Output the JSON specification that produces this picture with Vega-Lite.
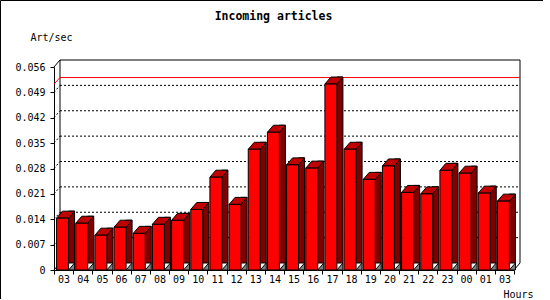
{
  "$schema": "https://vega.github.io/schema/vega-lite/v6.json",
  "width": 543,
  "height": 299,
  "padding": 0,
  "autosize": {"type": "none"},
  "background": "white",
  "config": {
    "view": {"stroke": "black", "strokeWidth": 1},
    "font": "DejaVu Sans Mono"
  },
  "title": {
    "text": "Incoming articles",
    "frame": "group",
    "anchor": "middle",
    "offset": -31,
    "baseline": "alphabetic",
    "dx": 2,
    "font": "DejaVu Sans Mono",
    "fontSize": 11.5,
    "fontWeight": "bold",
    "color": "black"
  },
  "datasets": {
    "bars": [
      {"slot": "03", "v": 0.0143},
      {"slot": "04", "v": 0.0129},
      {"slot": "05", "v": 0.0096},
      {"slot": "06", "v": 0.0118},
      {"slot": "07", "v": 0.0101},
      {"slot": "08", "v": 0.0126},
      {"slot": "09", "v": 0.0137},
      {"slot": "10", "v": 0.0167},
      {"slot": "11", "v": 0.0256},
      {"slot": "12", "v": 0.0181},
      {"slot": "13", "v": 0.0333},
      {"slot": "14", "v": 0.0380},
      {"slot": "15", "v": 0.0290},
      {"slot": "16", "v": 0.0281},
      {"slot": "17", "v": 0.0513},
      {"slot": "18", "v": 0.0333},
      {"slot": "19", "v": 0.0250},
      {"slot": "20", "v": 0.0287},
      {"slot": "21", "v": 0.0214},
      {"slot": "22", "v": 0.0210},
      {"slot": "23", "v": 0.0275},
      {"slot": "00", "v": 0.0267},
      {"slot": "01", "v": 0.0212},
      {"slot": "03*", "v": 0.0190}
    ],
    "grid": [
      {"g": 0.007}, {"g": 0.014}, {"g": 0.021}, {"g": 0.028},
      {"g": 0.035}, {"g": 0.042}, {"g": 0.049}
    ],
    "one": [{"k": 1}]
  },
  "layer": [
    {
      "data": {"name": "grid"},
      "mark": {"type": "rule", "stroke": "black", "strokeWidth": 1, "strokeDash": [2, 2], "xOffset": 6, "x2Offset": 6, "yOffset": -7},
      "encoding": {
        "x": {
          "datum": "03", "type": "ordinal", "bandPosition": 0,
          "scale": {
            "type": "band",
            "domain": ["03","04","05","06","07","08","09","10","11","12","13","14","15","16","17","18","19","20","21","22","23","00","01","03*"],
            "range": [54, 514],
            "paddingInner": 0,
            "paddingOuter": 0
          },
          "axis": {
            "orient": "bottom",
            "offset": -29,
            "tickBand": "extent",
            "labelAngle": 0,
            "labelOverlap": false,
            "labelExpr": "replace(datum.label, '*', '')",
            "labelFont": "DejaVu Sans Mono",
            "labelFontSize": 10,
            "labelColor": "black",
            "labelPadding": 0,
            "tickSize": 4,
            "tickColor": "black",
            "domainColor": "black",
            "grid": false,
            "title": "Hours",
            "titleX": 533,
            "titleY": 27,
            "titleAlign": "right",
            "titleBaseline": "alphabetic",
            "titleFont": "DejaVu Sans Mono",
            "titleFontSize": 10,
            "titleFontWeight": "normal",
            "titleColor": "black"
          }
        },
        "x2": {"datum": "03*", "bandPosition": 1},
        "y": {
          "field": "g", "type": "quantitative",
          "scale": {"domain": [0, 0.056], "range": [270, 67], "nice": false, "zero": true},
          "axis": {
            "orient": "left",
            "offset": -54,
            "values": [0, 0.007, 0.014, 0.021, 0.028, 0.035, 0.042, 0.049, 0.056],
            "tickCount": 30,
            "labelOverlap": false,
            "labelExpr": "datum.value == 0 ? '0' : format(datum.value, '.3f')",
            "labelFont": "DejaVu Sans Mono",
            "labelFontSize": 10,
            "labelColor": "black",
            "labelPadding": 5,
            "tickSize": 4,
            "tickColor": "black",
            "domainColor": "black",
            "grid": false,
            "title": "Art/sec",
            "titleAngle": 0,
            "titleX": -24,
            "titleY": 40,
            "titleAlign": "left",
            "titleBaseline": "alphabetic",
            "titleFont": "DejaVu Sans Mono",
            "titleFontSize": 10,
            "titleFontWeight": "normal",
            "titleColor": "black"
          }
        }
      }
    },
    {
      "data": {"name": "grid"},
      "mark": {"type": "rule", "stroke": "black", "strokeWidth": 1, "strokeDash": [2, 2], "x2Offset": 6, "y2Offset": -7},
      "encoding": {
        "x": {"datum": "03", "type": "ordinal", "bandPosition": 0},
        "x2": {"datum": "03", "bandPosition": 0},
        "y": {"field": "g", "type": "quantitative"},
        "y2": {"field": "g"}
      }
    },
    {
      "data": {"name": "one"},
      "mark": {"type": "rule", "stroke": "black", "strokeWidth": 1, "xOffset": 6, "x2Offset": 6, "yOffset": -7},
      "encoding": {
        "x": {"datum": "03", "type": "ordinal", "bandPosition": 0},
        "x2": {"datum": "03*", "bandPosition": 1},
        "y": {"datum": 0.056, "type": "quantitative"}
      }
    },
    {
      "data": {"name": "one"},
      "mark": {"type": "rule", "stroke": "black", "strokeWidth": 1, "xOffset": 6, "yOffset": -7, "y2Offset": -7},
      "encoding": {
        "x": {"datum": "03", "type": "ordinal", "bandPosition": 0},
        "y": {"datum": 0.056, "type": "quantitative"},
        "y2": {"datum": 0}
      }
    },
    {
      "data": {"name": "one"},
      "mark": {"type": "rule", "stroke": "black", "strokeWidth": 1, "xOffset": 6, "yOffset": -7, "y2Offset": -7},
      "encoding": {
        "x": {"datum": "03*", "type": "ordinal", "bandPosition": 1},
        "y": {"datum": 0.056, "type": "quantitative"},
        "y2": {"datum": 0}
      }
    },
    {
      "data": {"name": "one"},
      "mark": {"type": "rule", "stroke": "black", "strokeWidth": 1, "x2Offset": 6, "y2Offset": -7},
      "encoding": {
        "x": {"datum": "03", "type": "ordinal", "bandPosition": 0},
        "x2": {"datum": "03", "bandPosition": 0},
        "y": {"datum": 0.056, "type": "quantitative"},
        "y2": {"datum": 0.056}
      }
    },
    {
      "data": {"name": "one"},
      "mark": {"type": "rule", "stroke": "black", "strokeWidth": 1, "x2Offset": 6, "y2Offset": -7},
      "encoding": {
        "x": {"datum": "03*", "type": "ordinal", "bandPosition": 1},
        "x2": {"datum": "03*", "bandPosition": 1},
        "y": {"datum": 0, "type": "quantitative"},
        "y2": {"datum": 0}
      }
    },
    {
      "data": {"name": "one"},
      "mark": {"type": "rule", "stroke": "black", "strokeWidth": 1, "x2Offset": 6, "y2Offset": -7},
      "encoding": {
        "x": {"datum": "03", "type": "ordinal", "bandPosition": 0},
        "x2": {"datum": "03", "bandPosition": 0},
        "y": {"datum": 0, "type": "quantitative"},
        "y2": {"datum": 0}
      }
    },
    {
      "data": {"name": "bars"},
      "mark": {"type": "rule", "stroke": "#ff0000", "strokeWidth": 1, "xOffset": 6, "x2Offset": 6, "yOffset": -6.5},
      "encoding": {
        "x": {"datum": "03", "type": "ordinal", "bandPosition": 0},
        "x2": {"datum": "03*", "bandPosition": 1},
        "y": {"aggregate": "max", "field": "v", "type": "quantitative"}
      }
    },
    {
      "data": {"name": "bars"},
      "mark": {"type": "rule", "stroke": "#ff0000", "strokeWidth": 1, "x2Offset": 6, "y2Offset": -6.5},
      "encoding": {
        "x": {"datum": "03", "type": "ordinal", "bandPosition": 0},
        "x2": {"datum": "03", "bandPosition": 0},
        "y": {"aggregate": "max", "field": "v", "type": "quantitative"},
        "y2": {"aggregate": "max", "field": "v"}
      }
    },
    {
      "data": {"name": "bars"},
      "mark": {"type": "bar", "width": 6, "xOffset": 8, "yOffset": -7, "y2Offset": 0, "fill": "#800000", "stroke": "black", "strokeWidth": 1, "opacity": 1},
      "encoding": {
        "x": {"field": "slot", "type": "ordinal"},
        "y": {"field": "v", "type": "quantitative"}
      }
    },
    {
      "data": {"name": "bars"},
      "mark": {"type": "point", "shape": "M5,0L11,0L11,-7Z", "size": 4, "filled": true, "color": "#808080", "fill": "#808080", "stroke": "black", "strokeWidth": 1, "opacity": 1, "fillOpacity": 1},
      "encoding": {
        "x": {"field": "slot", "type": "ordinal"},
        "y": {"datum": 0, "type": "quantitative"}
      }
    },
    {
      "data": {"name": "bars"},
      "mark": {"type": "point", "shape": "M-7,0L5,0L11,-7L-1,-7Z", "size": 4, "filled": true, "color": "#c00000", "fill": "#c00000", "stroke": "black", "strokeWidth": 1, "opacity": 1, "fillOpacity": 1},
      "encoding": {
        "x": {"field": "slot", "type": "ordinal"},
        "y": {"field": "v", "type": "quantitative"}
      }
    },
    {
      "data": {"name": "bars"},
      "mark": {"type": "bar", "width": 12, "xOffset": -1, "fill": "#ff0000", "stroke": "black", "strokeWidth": 1, "opacity": 1},
      "encoding": {
        "x": {"field": "slot", "type": "ordinal"},
        "y": {"field": "v", "type": "quantitative"}
      }
    }
  ]
}
